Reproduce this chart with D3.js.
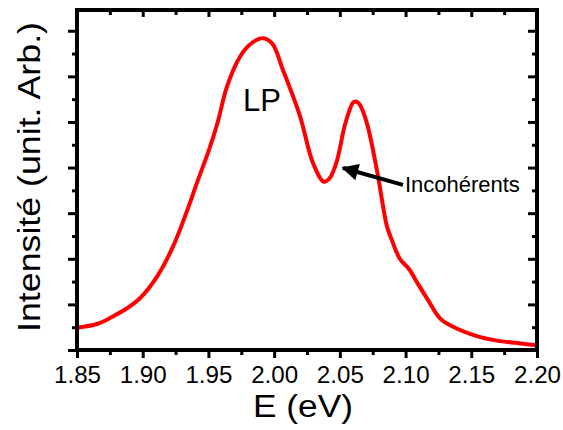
<!DOCTYPE html>
<html>
<head>
<meta charset="utf-8">
<script src="https://cdn.jsdelivr.net/npm/d3@7"></script>
<style>
  html, body { margin: 0; padding: 0; background: #fff; }
  svg { display: block; font-family: "Liberation Sans", Arial, sans-serif; }
</style>
</head>
<body>
<svg id="chart" width="563" height="430"></svg>
<script>
// ---- data ----
const energy = [1.85, 1.8652, 1.8766, 1.888, 1.8979, 1.9109, 1.923, 1.9337, 1.942, 1.9503,
  1.9571, 1.9641, 1.974, 1.9816, 1.9908, 1.9984, 2.0067, 2.0197, 2.0296,
  2.0379, 2.0425, 2.0479, 2.054, 2.06, 2.0623, 2.0653, 2.0706, 2.0782, 2.0859,
  2.0897, 2.0957, 2.1026, 2.1094, 2.117, 2.1262, 2.1361, 2.1543, 2.1696, 2.1871, 2.1992];
const intensity = [0.98, 1.14, 1.45, 1.83, 2.27, 3.22, 4.53, 6.1, 7.45, 8.75,
  10.0, 11.55, 12.86, 13.4, 13.67, 13.45, 12.28, 10.25, 8.19,
  7.38, 7.55, 8.33, 9.9, 10.85, 10.9, 10.75, 9.94, 7.89, 5.41,
  4.8, 3.99, 3.55, 2.9, 2.2, 1.39, 1.02, 0.61, 0.41, 0.29, 0.22];
const xTickLabels = ["1.85", "1.90", "1.95", "2.00", "2.05", "2.10", "2.15", "2.20"];
const xMajorTicks = [1.85, 1.90, 1.95, 2.00, 2.05, 2.10, 2.15, 2.20];
const xMinorTicks = [1.875, 1.925, 1.975, 2.025, 2.075, 2.125, 2.175];
const yMajorTicks = [0, 2, 4, 6, 8, 10, 12, 14];
const yMinorTicks = [1, 3, 5, 7, 9, 11, 13];
const xTitle = "E (eV)";
const yTitle = "Intensité (unit. Arb.)";
const peakLabel = { text: "LP", e: 1.9763, v: 10.48 };
const arrowNote = { text: "Incohérents", e: 2.0995, v: 6.93, tailE: 2.098, tailV: 7.24, tipE: 2.0524, tipV: 7.98 };

// ---- layout ----
const svg = d3.select("#chart");
const L = 77, R = 537, T = 10, B = 350;
const x = d3.scaleLinear().domain([1.85, 2.20]).range([L, R]);
const y = d3.scaleLinear().domain([0, 14.91]).range([B, T]);

function styleAxis(g) {
  g.select(".domain").remove();
  g.selectAll(".tick line").attr("stroke", "#000").attr("stroke-width", 3);
}

// bottom axis (outward ticks) with labels
svg.append("g").attr("transform", `translate(0,${B})`)
  .call(d3.axisBottom(x).tickValues(xMajorTicks).tickSize(8).tickPadding(8)
    .tickFormat((d, i) => xTickLabels[i]))
  .call(styleAxis)
  .call(g => g.selectAll("text").attr("font-size", 24).attr("fill", "#000")
    .attr("font-family", "Liberation Sans, Arial, sans-serif")
    .attr("textLength", 47).attr("lengthAdjust", "spacingAndGlyphs"));
svg.append("g").attr("transform", `translate(0,${B})`)
  .call(d3.axisBottom(x).tickValues(xMinorTicks).tickSize(5).tickFormat(""))
  .call(styleAxis);

// top axis (inward ticks)
svg.append("g").attr("transform", `translate(0,${T})`)
  .call(d3.axisTop(x).tickValues(xMajorTicks).tickSize(-7).tickFormat(""))
  .call(styleAxis);
svg.append("g").attr("transform", `translate(0,${T})`)
  .call(d3.axisTop(x).tickValues(xMinorTicks).tickSize(-5).tickFormat(""))
  .call(styleAxis);

// left axis (outward ticks)
svg.append("g").attr("transform", `translate(${L},0)`)
  .call(d3.axisLeft(y).tickValues(yMajorTicks).tickSize(9).tickFormat(""))
  .call(styleAxis);
svg.append("g").attr("transform", `translate(${L},0)`)
  .call(d3.axisLeft(y).tickValues(yMinorTicks).tickSize(5).tickFormat(""))
  .call(styleAxis);

// right axis (inward ticks)
svg.append("g").attr("transform", `translate(${R},0)`)
  .call(d3.axisRight(y).tickValues(yMajorTicks).tickSize(-9).tickFormat(""))
  .call(styleAxis);
svg.append("g").attr("transform", `translate(${R},0)`)
  .call(d3.axisRight(y).tickValues(yMinorTicks).tickSize(-5).tickFormat(""))
  .call(styleAxis);

// curve
const pts = energy.map((e, i) => [e, intensity[i]]);
const line = d3.line().x(d => x(d[0])).y(d => y(d[1])).curve(d3.curveCatmullRom.alpha(0.5));
svg.append("path").attr("d", line(pts))
  .attr("fill", "none").attr("stroke", "#ff0000").attr("stroke-width", 4)
  .attr("stroke-linejoin", "round");

// frame
svg.append("rect").attr("x", L).attr("y", T).attr("width", R - L).attr("height", B - T)
  .attr("fill", "none").attr("stroke", "#000").attr("stroke-width", 4);

// axis titles
svg.append("text").attr("x", (L + R) / 2 - 4).attr("y", 417)
  .attr("text-anchor", "middle").attr("font-size", 31).attr("fill", "#000")
  .attr("textLength", 100).attr("lengthAdjust", "spacingAndGlyphs")
  .text(xTitle);
svg.append("text")
  .attr("transform", `translate(40,177) rotate(-90)`)
  .attr("text-anchor", "middle").attr("font-size", 31).attr("fill", "#000")
  .attr("textLength", 310).attr("lengthAdjust", "spacingAndGlyphs")
  .text(yTitle);

// annotations
svg.append("text").attr("x", x(peakLabel.e)).attr("y", y(peakLabel.v))
  .attr("font-size", 31).attr("fill", "#000").text(peakLabel.text);

const defs = svg.append("defs");
defs.append("marker").attr("id", "ah").attr("viewBox", "0 0 10 10")
  .attr("refX", 9).attr("refY", 5).attr("markerWidth", 4.6).attr("markerHeight", 4.2)
  .attr("markerUnits", "strokeWidth").attr("orient", "auto")
  .append("path").attr("d", "M0,0 L10,5 L0,10 Z").attr("fill", "#000");
svg.append("line")
  .attr("x1", x(arrowNote.tailE)).attr("y1", y(arrowNote.tailV))
  .attr("x2", x(arrowNote.tipE)).attr("y2", y(arrowNote.tipV))
  .attr("stroke", "#000").attr("stroke-width", 4).attr("marker-end", "url(#ah)");
svg.append("text").attr("x", x(arrowNote.e)).attr("y", y(arrowNote.v))
  .attr("font-size", 22).attr("fill", "#000").text(arrowNote.text);
</script>
</body>
</html>
